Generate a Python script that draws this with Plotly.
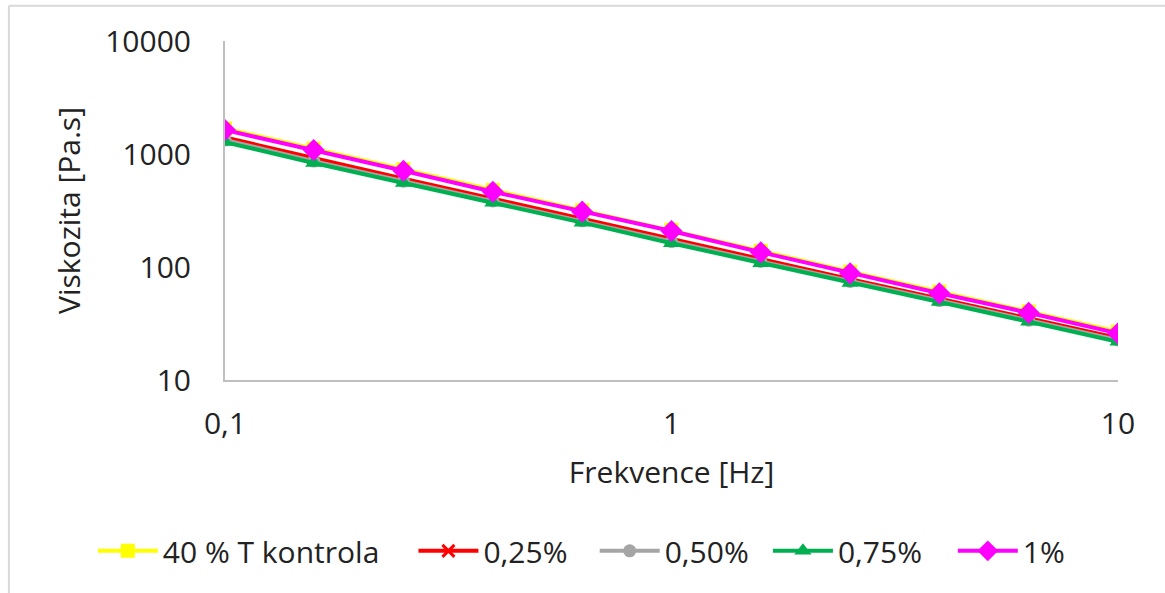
import plotly.graph_objects as go

# Oscillation frequency [Hz] (5 points per decade)
frekvence = [0.1, 0.158, 0.251, 0.398, 0.631, 1.0, 1.585, 2.512, 3.981, 6.31, 10.0]

# Complex viscosity [Pa.s] per sample
kontrola = [1680, 1120, 735, 480, 318, 214, 139, 91, 60.5, 40.5, 26.8]
v025 = [1400, 915, 605, 403, 267, 176, 117, 78, 52.5, 35, 23.5]
v050 = [1330, 865, 575, 384, 256, 168, 112, 74.5, 50.5, 33.8, 22.6]
v075 = [1275, 832, 553, 371, 247, 162, 108, 72, 49, 32.8, 21.8]
v100 = [1630, 1085, 711, 464, 309, 208, 135, 88, 58.5, 39.4, 25.9]

# name, values, colour, marker symbol, marker size, legend x position
series = [
    ("40 % T kontrola", kontrola, "#FFFF00", "square", 14, -0.148),
    ("0,25%", v025, "#FF0000", "x-thin", 12, 0.211),
    ("0,50%", v050, "#A5A5A5", "circle", 13, 0.414),
    ("0,75%", v075, "#00B050", "triangle-up", 15, 0.608),
    ("1%", v100, "#FF00FF", "diamond", 17, 0.815),
]

FONT = "Open Sans, Lato, sans-serif"
FS = 30

fig = go.Figure()
legends = {}
for i, (name, vals, color, symbol, size, lx) in enumerate(series):
    key = "legend" if i == 0 else f"legend{i + 1}"
    fig.add_trace(go.Scatter(
        x=frekvence, y=vals, name=name, mode="lines+markers",
        legend=key,
        line=dict(color=color, width=4),
        marker=dict(symbol=symbol, size=size, color=color,
                    line=dict(color=color, width=3 if symbol == "x-thin" else 0)),
    ))
    legends[key] = dict(
        orientation="h", x=lx, xanchor="left", y=-0.504, yanchor="middle",
        font=dict(family=FONT, size=FS, color="#222222"),
        itemwidth=60, bgcolor="rgba(0,0,0,0)", borderwidth=0,
    )

fig.update_layout(
    width=1165, height=593,
    margin=dict(l=225, r=47, t=41, b=213),
    paper_bgcolor="white", plot_bgcolor="white",
    font=dict(family=FONT, size=FS, color="#222222"),
    showlegend=True,
    xaxis=dict(
        type="log", range=[-1, 1],
        tickvals=[0.1, 1, 10], ticktext=["0,1", "1", "10"],
        showgrid=False, zeroline=False,
        showline=True, linecolor="#BFBFBF", linewidth=2,
        ticks="", ticklabelstandoff=16,
        title=dict(text="Frekvence [Hz]", standoff=20, font=dict(size=FS)),
    ),
    yaxis=dict(
        type="log", range=[1, 4],
        tickvals=[10, 100, 1000, 10000], ticktext=["10", "100", "1000", "10000"],
        showgrid=False, zeroline=False,
        showline=True, linecolor="#BFBFBF", linewidth=2,
        ticks="", ticklabelstandoff=26,
        title=dict(text="Viskozita [Pa.s]", standoff=16, font=dict(size=FS)),
    ),
    shapes=[
        # chart-area border along the top and left edges
        dict(type="line", xref="paper", yref="paper",
             x0=-0.242, x1=1.06, y0=1.104, y1=1.104,
             line=dict(color="#D9D9D9", width=2)),
        dict(type="line", xref="paper", yref="paper",
             x0=-0.242, x1=-0.242, y0=1.104, y1=-0.66,
             line=dict(color="#D9D9D9", width=2)),
    ],
    **legends,
)

fig.write_html("out.html")
